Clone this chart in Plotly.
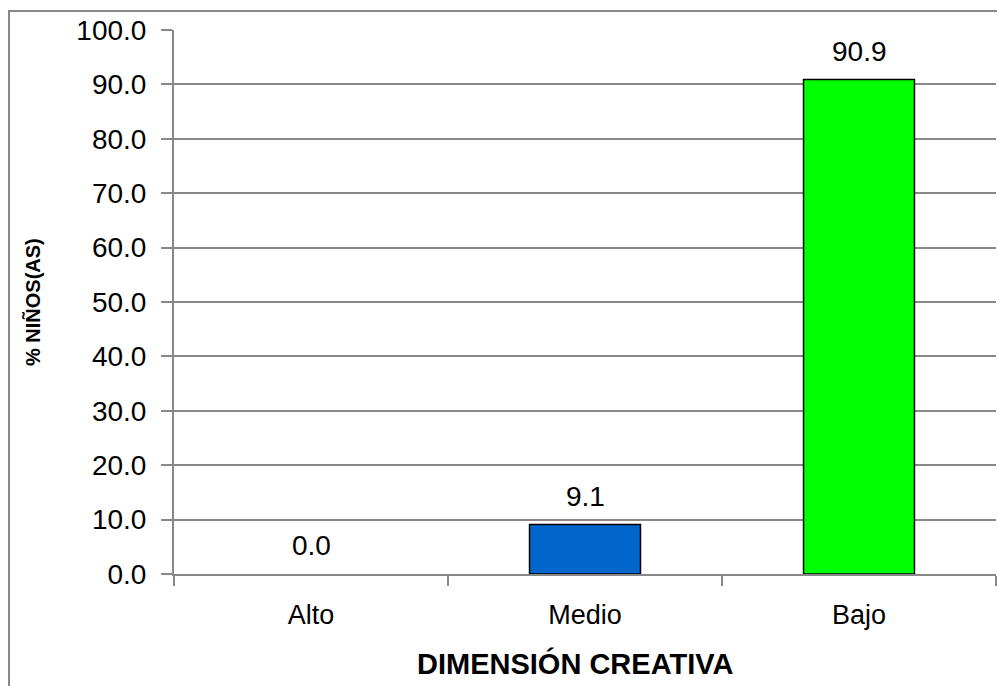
import plotly.graph_objects as go

categories = ["Alto", "Medio", "Bajo"]
values = [0.0, 9.1, 90.9]
bar_colors = ["#0066CC", "#0066CC", "#00FF00"]
y_ticks = [0, 10, 20, 30, 40, 50, 60, 70, 80, 90, 100]
y_tick_labels = [f"{v:.1f}" for v in y_ticks]

# page body has an 8px margin; lay out in screen pixels minus that offset
OFF = 8
W, H = 1005 - OFF, 686 - OFF
L, R, T, B = 174 - OFF, 9, 30 - OFF, 112
pw, ph = W - L - R, H - T - B

def px_x(x):
    return (x - OFF - L) / pw

def px_y(y):
    return (H - B - (y - OFF)) / ph

FONT = "Liberation Sans, Arial, sans-serif"

fig = go.Figure()
fig.add_trace(go.Bar(
    x=categories, y=values,
    marker=dict(color=bar_colors,
                line=dict(color="#000000", width=[0 if v == 0 else 1.5 for v in values])),
    width=0.405,
    textposition="none",
    hoverinfo="x+y",
))

annotations = [
    dict(text=f"{v:.1f}", x=c, y=v, xref="x", yref="y",
         xanchor="center", yanchor="bottom", yshift=11, showarrow=False,
         font=dict(size=28, color="#000000", family=FONT))
    for c, v in zip(categories, values)
]
annotations += [
    dict(text="<b>DIMENSIÓN CREATIVA</b>", xref="paper", yref="paper",
         x=px_x(575), y=px_y(663), xanchor="center", yanchor="middle",
         showarrow=False, font=dict(size=29)),
    dict(text="<b>% NIÑOS(AS)</b>", xref="paper", yref="paper",
         x=px_x(33), y=px_y(302), xanchor="center", yanchor="middle",
         textangle=-90, showarrow=False, font=dict(size=20)),
]

fig.update_layout(
    width=W, height=H,
    margin=dict(l=L, r=R, t=T, b=B, autoexpand=False),
    paper_bgcolor="#FFFFFF", plot_bgcolor="#FFFFFF",
    font=dict(family=FONT, size=26, color="#000000"),
    showlegend=False,
    xaxis=dict(
        showline=True, linecolor="#888888", linewidth=2,
        ticks="outside", tickson="boundaries", ticklen=10, tickcolor="#888888", tickwidth=2,
        showgrid=False, tickfont=dict(size=27), automargin=False,
        ticklabelstandoff=16,
    ),
    yaxis=dict(
        range=[0, 100], tickvals=y_ticks, ticktext=y_tick_labels,
        showline=True, linecolor="#888888", linewidth=2,
        ticks="outside", ticklen=11, tickcolor="#888888", tickwidth=2,
        showgrid=True, gridcolor="#888888", gridwidth=2,
        zeroline=False, tickfont=dict(size=28), automargin=False,
        ticklabelstandoff=9,
    ),
    annotations=annotations,
    shapes=[
        dict(type="rect", xref="paper", yref="paper",
             x0=px_x(9), x1=px_x(1012), y0=px_y(700), y1=px_y(11),
             line=dict(color="#888888", width=2), fillcolor="rgba(0,0,0,0)", layer="below"),
    ],
)

fig.write_html("out.html")
